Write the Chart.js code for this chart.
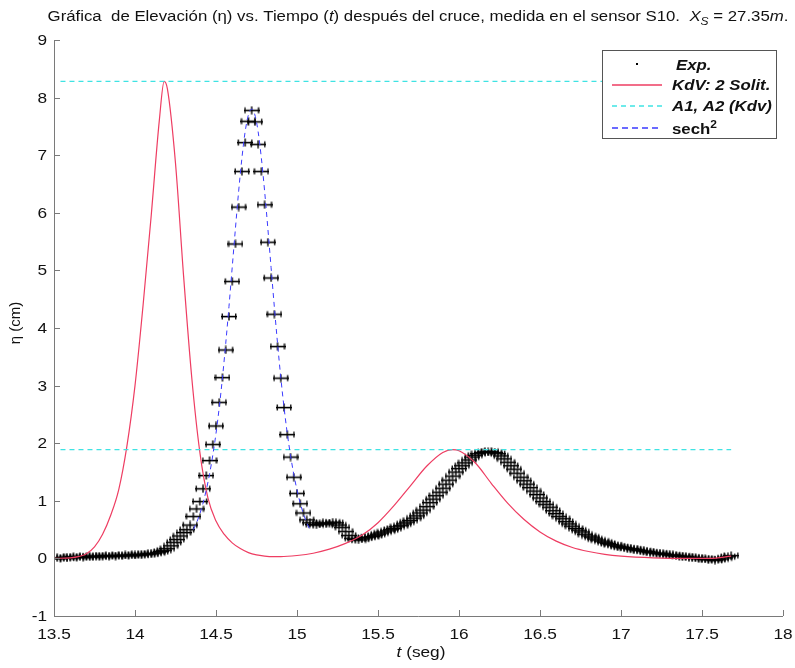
<!DOCTYPE html>
<html>
<head>
    <title>Elevación vs. Tiempo - sensor S10</title>
    <script src="https://cdn.jsdelivr.net/npm/chart.js"></script>
    <style>
        body { margin: 0; background: #fff; }
        #wrap { width: 795px; height: 668px; }
    </style>
</head>
<body>
<div id="wrap"><canvas id="etaChart" width="795" height="668"></canvas></div>
<script>
// experimental record, sensor S10 (t in s, eta in cm)
const expTime = [
    13.50, 13.52, 13.54, 13.56, 13.58, 13.60, 13.62, 13.64, 13.66, 13.68,
    13.70, 13.72, 13.74, 13.76, 13.78, 13.80, 13.82, 13.84, 13.86, 13.88,
    13.90, 13.92, 13.94, 13.96, 13.98, 14.00, 14.02, 14.04, 14.06, 14.08,
    14.10, 14.12, 14.14, 14.16, 14.18, 14.20, 14.22, 14.24, 14.26, 14.28,
    14.30, 14.32, 14.34, 14.36, 14.38, 14.40, 14.42, 14.44, 14.46, 14.48,
    14.50, 14.52, 14.54, 14.56, 14.58, 14.60, 14.62, 14.64, 14.66, 14.68,
    14.70, 14.72, 14.74, 14.76, 14.78, 14.80, 14.82, 14.84, 14.86, 14.88,
    14.90, 14.92, 14.94, 14.96, 14.98, 15.00, 15.02, 15.04, 15.06, 15.08,
    15.10, 15.12, 15.14, 15.16, 15.18, 15.20, 15.22, 15.24, 15.26, 15.28,
    15.30, 15.32, 15.34, 15.36, 15.38, 15.40, 15.42, 15.44, 15.46, 15.48,
    15.50, 15.52, 15.54, 15.56, 15.58, 15.60, 15.62, 15.64, 15.66, 15.68,
    15.70, 15.72, 15.74, 15.76, 15.78, 15.80, 15.82, 15.84, 15.86, 15.88,
    15.90, 15.92, 15.94, 15.96, 15.98, 16.00, 16.02, 16.04, 16.06, 16.08,
    16.10, 16.12, 16.14, 16.16, 16.18, 16.20, 16.22, 16.24, 16.26, 16.28,
    16.30, 16.32, 16.34, 16.36, 16.38, 16.40, 16.42, 16.44, 16.46, 16.48,
    16.50, 16.52, 16.54, 16.56, 16.58, 16.60, 16.62, 16.64, 16.66, 16.68,
    16.70, 16.72, 16.74, 16.76, 16.78, 16.80, 16.82, 16.84, 16.86, 16.88,
    16.90, 16.92, 16.94, 16.96, 16.98, 17.00, 17.02, 17.04, 17.06, 17.08,
    17.10, 17.12, 17.14, 17.16, 17.18, 17.20, 17.22, 17.24, 17.26, 17.28,
    17.30, 17.32, 17.34, 17.36, 17.38, 17.40, 17.42, 17.44, 17.46, 17.48,
    17.50, 17.52, 17.54, 17.56, 17.58, 17.60, 17.62, 17.64, 17.66, 17.68
];
const expEta = [
    0.00, 0.01, 0.00, 0.02, 0.01, 0.02, 0.03, 0.02, 0.03, 0.02,
    0.03, 0.04, 0.03, 0.04, 0.03, 0.04, 0.05, 0.04, 0.05, 0.04,
    0.05, 0.05, 0.06, 0.05, 0.06, 0.06, 0.07, 0.06, 0.07, 0.08,
    0.08, 0.09, 0.10, 0.12, 0.14, 0.17, 0.22, 0.28, 0.33, 0.39,
    0.45, 0.50, 0.58, 0.73, 0.86, 0.99, 1.21, 1.44, 1.70, 1.98,
    2.30, 2.71, 3.14, 3.62, 4.20, 4.81, 5.46, 6.10, 6.72, 7.22,
    7.59, 7.78, 7.58, 7.19, 6.72, 6.14, 5.49, 4.87, 4.24, 3.68,
    3.13, 2.62, 2.15, 1.76, 1.41, 1.13, 0.95, 0.79, 0.67, 0.62,
    0.59, 0.58, 0.60, 0.62, 0.60, 0.61, 0.63, 0.62, 0.58, 0.54,
    0.47, 0.40, 0.35, 0.33, 0.32, 0.34, 0.36, 0.37, 0.38, 0.40,
    0.42, 0.44, 0.46, 0.48, 0.50, 0.52, 0.55, 0.57, 0.60, 0.63,
    0.66, 0.70, 0.74, 0.79, 0.84, 0.90, 0.97, 1.03, 1.09, 1.15,
    1.22, 1.29, 1.36, 1.43, 1.50, 1.56, 1.61, 1.66, 1.71, 1.76,
    1.79, 1.82, 1.84, 1.85, 1.85, 1.86, 1.84, 1.82, 1.78, 1.73,
    1.67, 1.61, 1.55, 1.48, 1.41, 1.35, 1.29, 1.23, 1.17, 1.11,
    1.05, 0.99, 0.94, 0.89, 0.83, 0.78, 0.73, 0.69, 0.64, 0.60,
    0.56, 0.52, 0.49, 0.46, 0.42, 0.39, 0.37, 0.34, 0.32, 0.30,
    0.28, 0.26, 0.24, 0.23, 0.21, 0.20, 0.19, 0.18, 0.17, 0.16,
    0.15, 0.14, 0.13, 0.12, 0.11, 0.10, 0.09, 0.09, 0.08, 0.07,
    0.06, 0.06, 0.05, 0.04, 0.04, 0.03, 0.02, 0.02, 0.01, 0.00,
    0.00, -0.01, -0.02, -0.02, -0.03, -0.02, -0.01, 0.01, 0.03, 0.05
];

// KdV two-soliton solution
const kdvTime = [
    13.50, 13.60, 13.65, 13.70, 13.75, 13.80, 13.85, 13.90, 13.95, 14.00,
    14.05, 14.10, 14.15, 14.18, 14.20, 14.25, 14.30, 14.35, 14.40, 14.45,
    14.50, 14.55, 14.60, 14.65, 14.70, 14.75, 14.80, 14.85, 14.90, 15.00,
    15.10, 15.20, 15.30, 15.40, 15.50, 15.60, 15.70, 15.80, 15.90, 15.96,
    16.00, 16.10, 16.20, 16.30, 16.40, 16.50, 16.60, 16.70, 16.80, 16.90,
    17.00, 17.20, 17.40, 17.55, 17.68
];
const kdvEta = [
    0.00, 0.01, 0.03, 0.08, 0.20, 0.42, 0.75, 1.20, 1.95, 3.00,
    4.40, 5.95, 7.60, 8.28, 8.15, 6.86, 4.90, 3.15, 1.85, 1.05,
    0.65, 0.42, 0.27, 0.17, 0.10, 0.06, 0.04, 0.03, 0.03, 0.05,
    0.09, 0.16, 0.26, 0.40, 0.62, 0.92, 1.26, 1.60, 1.84, 1.89,
    1.87, 1.66, 1.30, 0.96, 0.68, 0.46, 0.30, 0.19, 0.12, 0.07,
    0.04, 0.01, 0.00, 0.00, 0.04
];

// soliton amplitudes A1, A2 (KdV)
const ampTime = [13.54, 17.68];
const a1Eta = [8.28, 8.28];
const a2Eta = [1.89, 1.89];

// sech^2 fit of the leading peak
const sechTime = [
    14.36, 14.38, 14.40, 14.42, 14.44, 14.46, 14.48, 14.50, 14.52, 14.54,
    14.56, 14.58, 14.60, 14.62, 14.64, 14.66, 14.68, 14.70, 14.72, 14.74,
    14.76, 14.78, 14.80, 14.82, 14.84, 14.86, 14.88, 14.90, 14.92, 14.94,
    14.96, 14.98, 15.00, 15.02, 15.04, 15.06, 15.08
];
const sechEta = [
    0.50, 0.62, 0.77, 0.96, 1.19, 1.46, 1.79, 2.17, 2.62, 3.14,
    3.73, 4.37, 5.05, 5.73, 6.38, 6.95, 7.41, 7.70, 7.80, 7.70,
    7.41, 6.95, 6.38, 5.73, 5.05, 4.37, 3.73, 3.14, 2.62, 2.17,
    1.79, 1.46, 1.19, 0.96, 0.77, 0.62, 0.50
];

const xTickValues = [13.5, 14, 14.5, 15, 15.5, 16, 16.5, 17, 17.5, 18];
const yTickValues = [-1, 0, 1, 2, 3, 4, 5, 6, 7, 8, 9];

const FONT = '"Liberation Sans", Arial, sans-serif';
const RED = '#ee3d62';
const CYAN = '#3fe3e3';
const BLUE = '#3a3aff';
const SX = 1.2;   // the original figure is a bit wide: text is stretched horizontally

function pairs(xs, ys) {
    return xs.map((x, i) => ({ x: x, y: ys[i] }));
}

// little horizontal error bar used as marker for the measurements
function errorBarMark() {
    const c = document.createElement('canvas');
    c.width = 16;
    c.height = 9;
    const g = c.getContext('2d');
    g.fillStyle = '#000';
    g.fillRect(0, 3.8, 16, 1.6);
    g.fillRect(0.6, 1.5, 1.3, 6);
    g.fillRect(14.1, 1.5, 1.3, 6);
    g.fillRect(7.3, 0.5, 1.4, 8);
    return c;
}

// text made of pieces with their own font, squeezed by sx around cx
function drawRich(ctx, parts, cx, baseline, sx, align) {
    let w = 0;
    parts.forEach(p => { ctx.font = p.font; w += ctx.measureText(p.text).width; });
    ctx.save();
    ctx.translate(cx, baseline);
    ctx.scale(sx, 1);
    let x = align === 'right' ? -w : align === 'left' ? 0 : -w / 2;
    parts.forEach(p => {
        ctx.font = p.font;
        ctx.fillText(p.text, x, p.dy || 0);
        x += ctx.measureText(p.text).width;
    });
    ctx.restore();
}

// matlab-like decorations: axes lines, inward ticks, labels, titles, legend box
const matlabLook = {
    id: 'matlabLook',
    afterDraw(chart) {
        const ctx = chart.ctx;
        const a = chart.chartArea;
        const xs = chart.scales.x, ys = chart.scales.y;
        ctx.save();

        ctx.strokeStyle = '#7a7a7a';
        ctx.lineWidth = 1;
        ctx.beginPath();
        ctx.moveTo(a.left + 0.5, a.top);
        ctx.lineTo(a.left + 0.5, a.bottom + 0.5);
        ctx.lineTo(a.right, a.bottom + 0.5);
        xs.ticks.forEach(t => {
            const px = Math.round(xs.getPixelForValue(t.value)) + 0.5;
            ctx.moveTo(px, a.bottom);
            ctx.lineTo(px, a.bottom - 6);
        });
        ys.ticks.forEach(t => {
            const py = Math.round(ys.getPixelForValue(t.value)) + 0.5;
            ctx.moveTo(a.left, py);
            ctx.lineTo(a.left + 6, py);
        });
        ctx.stroke();

        ctx.fillStyle = '#111';
        ctx.textBaseline = 'alphabetic';
        const tf = '15px ' + FONT;
        xs.ticks.forEach(t => {
            drawRich(ctx, [{ text: String(t.value), font: tf }], xs.getPixelForValue(t.value), a.bottom + 23, 1.15);
        });
        ys.ticks.forEach(t => {
            drawRich(ctx, [{ text: String(t.value), font: tf }], a.left - 7, ys.getPixelForValue(t.value) + 5, 1.15, 'right');
        });

        // title
        const n = '14px ' + FONT, it = 'italic 14px ' + FONT;
        drawRich(ctx, [
            { text: 'Gráfica  de Elevación (', font: n },
            { text: 'η', font: n },
            { text: ') vs. Tiempo (', font: n },
            { text: 't', font: it },
            { text: ') después del cruce, medida en el sensor S10.  ', font: n },
            { text: 'X', font: it },
            { text: 'S', font: 'italic 10px ' + FONT, dy: 4 },
            { text: ' = 27.35', font: n },
            { text: 'm', font: it },
            { text: '.', font: n }
        ], 418, 21, SX);

        // x axis title
        const n15 = '15px ' + FONT, it15 = 'italic 15px ' + FONT;
        drawRich(ctx, [
            { text: 't', font: it15 },
            { text: ' (seg)', font: n15 }
        ], 421, 657, 1.15);

        // y axis title
        ctx.save();
        ctx.translate(20, 323);
        ctx.rotate(-Math.PI / 2);
        drawRich(ctx, [{ text: 'η (cm)', font: n15 }], 0, 0, 1);
        ctx.restore();

        // legend
        const lx = 602.5, ly = 50.5, lw = 174, lh = 88;
        ctx.fillStyle = '#fff';
        ctx.fillRect(lx, ly, lw, lh);
        ctx.strokeStyle = '#555';
        ctx.strokeRect(lx, ly, lw, lh);
        const entries = [
            { y: 65, kind: 'dot', label: 'Exp.', tx: 676 },
            { y: 85, kind: 'line', color: RED, dash: [], label: 'KdV: 2 Solit.', tx: 672 },
            { y: 106, kind: 'line', color: CYAN, dash: [5, 4], label: 'A1, A2 (Kdv)', tx: 672 },
            { y: 128, kind: 'line', color: BLUE, dash: [6, 4], label: 'sech', tx: 672 }
        ];
        entries.forEach(e => {
            if (e.kind === 'dot') {
                ctx.fillStyle = '#000';
                ctx.fillRect(636, e.y - 2, 2, 2);
            } else {
                ctx.strokeStyle = e.color;
                ctx.setLineDash(e.dash);
                ctx.lineWidth = 1.3;
                ctx.beginPath();
                ctx.moveTo(612, e.y);
                ctx.lineTo(662, e.y);
                ctx.stroke();
                ctx.setLineDash([]);
            }
            ctx.fillStyle = '#111';
            if (e.label === 'sech') {
                drawRich(ctx, [
                    { text: 'sech', font: 'bold 14px ' + FONT, dy: 0 },
                    { text: '2', font: 'bold 10px ' + FONT, dy: -6 }
                ], e.tx, e.y + 6, SX, 'left');
            } else {
                drawRich(ctx, [{ text: e.label, font: 'italic bold 14px ' + FONT }], e.tx, e.y + 5, SX, 'left');
            }
        });
        ctx.restore();
    }
};

new Chart(document.getElementById('etaChart'), {
    type: 'scatter',
    data: {
        datasets: [
            {
                label: 'Exp.',
                data: pairs(expTime, expEta),
                pointStyle: errorBarMark(),
                pointRadius: 3,
                showLine: false,
                order: 4
            },
            {
                label: 'KdV: 2 Solit.',
                data: pairs(kdvTime, kdvEta),
                showLine: true,
                borderColor: RED,
                borderWidth: 1.2,
                pointRadius: 0,
                cubicInterpolationMode: 'monotone',
                order: 3
            },
            {
                label: 'A1, A2 (Kdv)',
                data: pairs(ampTime, a1Eta),
                showLine: true,
                borderColor: CYAN,
                borderWidth: 1.2,
                borderDash: [5, 4],
                pointRadius: 0,
                order: 2
            },
            {
                label: 'A2',
                data: pairs(ampTime, a2Eta),
                showLine: true,
                borderColor: CYAN,
                borderWidth: 1.2,
                borderDash: [5, 4],
                pointRadius: 0,
                order: 2
            },
            {
                label: 'sech2',
                data: pairs(sechTime, sechEta),
                showLine: true,
                borderColor: BLUE,
                borderWidth: 1,
                borderDash: [5, 4],
                pointRadius: 0,
                cubicInterpolationMode: 'monotone',
                order: 1
            }
        ]
    },
    options: {
        responsive: false,
        animation: false,
        layout: { padding: { left: 0, right: 12, top: 40, bottom: 0 } },
        plugins: {
            legend: { display: false },
            tooltip: { enabled: false }
        },
        scales: {
            x: {
                type: 'linear',
                min: 13.5,
                max: 18,
                afterBuildTicks: s => { s.ticks = xTickValues.map(v => ({ value: v })); },
                afterFit: s => { s.height = 52; },
                grid: { display: false, drawTicks: false },
                border: { display: false },
                ticks: { display: false }
            },
            y: {
                type: 'linear',
                min: -1,
                max: 9,
                afterBuildTicks: s => { s.ticks = yTickValues.map(v => ({ value: v })); },
                afterFit: s => { s.width = 54; },
                grid: { display: false, drawTicks: false },
                border: { display: false },
                ticks: { display: false }
            }
        }
    },
    plugins: [matlabLook]
});
</script>
</body>
</html>
